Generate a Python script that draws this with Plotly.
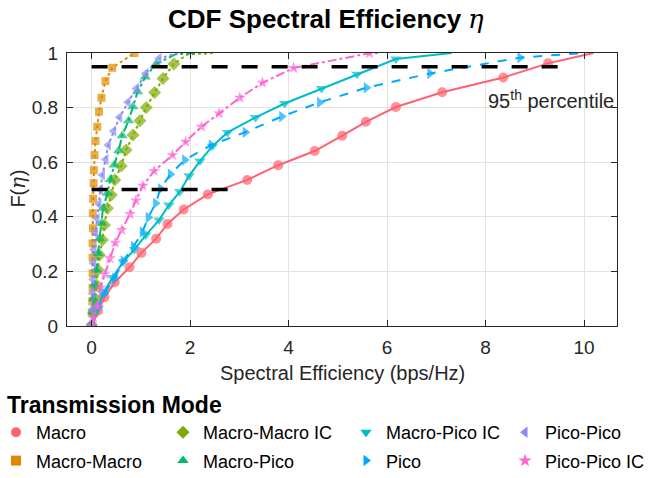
import plotly.graph_objects as go

# ---------------- data ----------------
names = ["Macro", "Macro-Macro", "Macro-Macro IC", "Macro-Pico",
         "Macro-Pico IC", "Pico", "Pico-Pico", "Pico-Pico IC"]

macro_x = [0, 0.13, 0.26, 0.47, 0.77, 1.01, 1.31, 1.54, 1.87, 2.36, 3.16, 3.79,
           4.53, 5.09, 5.57, 6.18, 7.12, 8.36, 9.27, 10.19]
macro_y = [0, 0.056, 0.105, 0.16, 0.215, 0.268, 0.32, 0.374, 0.427, 0.482, 0.535,
           0.589, 0.641, 0.697, 0.748, 0.802, 0.856, 0.91, 0.962, 1.0]

mm_x = [0, 0.01, 0.015, 0.02, 0.02, 0.02, 0.02, 0.025, 0.025, 0.03, 0.04, 0.045,
        0.06, 0.08, 0.115, 0.15, 0.2, 0.28, 0.42, 0.87]
mm_y = [0, 0.047, 0.09, 0.14, 0.193, 0.25, 0.303, 0.358, 0.413, 0.466, 0.523, 0.571,
        0.626, 0.678, 0.73, 0.785, 0.836, 0.897, 0.946, 1.0]

mmic_x = [0, 0.04, 0.07, 0.1, 0.13, 0.16, 0.22, 0.26, 0.32, 0.4, 0.47, 0.6, 0.7,
          0.84, 0.98, 1.11, 1.28, 1.45, 1.67, 1.95, 2.5]
mmic_y = [0, 0.05, 0.1, 0.15, 0.205, 0.26, 0.315, 0.37, 0.431, 0.48, 0.535, 0.586,
          0.645, 0.70, 0.752, 0.80, 0.855, 0.907, 0.96, 0.995, 1.0]

mp_x = [0, 0.02, 0.04, 0.06, 0.1, 0.13, 0.16, 0.2, 0.23, 0.32, 0.38, 0.46, 0.55,
        0.62, 0.75, 0.84, 0.935, 1.09, 1.31, 1.7, 2.1]
mp_y = [0, 0.05, 0.1, 0.15, 0.205, 0.266, 0.321, 0.376, 0.431, 0.486, 0.537, 0.59,
        0.642, 0.697, 0.752, 0.803, 0.858, 0.912, 0.96, 0.995, 1.0]

mpic_x = [0, 0.13, 0.23, 0.43, 0.64, 0.87, 1.1, 1.37, 1.57, 1.79, 1.98, 2.2, 2.45,
          2.76, 3.33, 3.92, 4.67, 5.39, 6.18, 7.31]
mpic_y = [0, 0.065, 0.12, 0.178, 0.235, 0.28, 0.333, 0.388, 0.443, 0.492, 0.55,
          0.604, 0.658, 0.709, 0.764, 0.815, 0.87, 0.922, 0.978, 1.0]

pico_x = [0, 0.13, 0.26, 0.47, 0.64, 0.85, 1.03, 1.15, 1.3, 1.4, 1.6, 1.89, 2.43,
          3.12, 3.86, 4.63, 5.58, 6.87, 8.7, 9.99]
pico_y = [0, 0.07, 0.12, 0.175, 0.238, 0.291, 0.344, 0.397, 0.45, 0.503, 0.556,
          0.608, 0.663, 0.71, 0.767, 0.819, 0.873, 0.925, 0.983, 1.0]

pp_x = [0, 0.01, 0.02, 0.03, 0.04, 0.05, 0.08, 0.11, 0.15, 0.18, 0.22, 0.29, 0.34,
        0.45, 0.57, 0.74, 0.91, 1.1, 1.37, 1.75]
pp_y = [0, 0.06, 0.12, 0.17, 0.23, 0.28, 0.342, 0.394, 0.447, 0.5, 0.553, 0.61,
        0.663, 0.714, 0.765, 0.82, 0.87, 0.925, 0.98, 1.0]

ppic_x = [0, 0.04, 0.12, 0.18, 0.27, 0.37, 0.48, 0.61, 0.78, 0.9, 1.04, 1.27, 1.64,
          1.91, 2.23, 2.59, 3.01, 3.47, 4.1, 5.64, 5.82]
ppic_y = [0, 0.03, 0.07, 0.14, 0.19, 0.248, 0.305, 0.352, 0.41, 0.46, 0.514, 0.568,
          0.626, 0.675, 0.73, 0.779, 0.836, 0.891, 0.945, 0.999, 1.0]

pct95_x = [0, 9.7]
pct95_y = [0.95, 0.95]
pct50_x = [0, 2.8]
pct50_y = [0.5, 0.5]

x_ticks = [0, 2, 4, 6, 8, 10]
y_ticks = [0, 0.2, 0.4, 0.6, 0.8, 1]
y_ticklabels = ["0", "0.2", "0.4", "0.6", "0.8", "1"]

# ---------------- styles ----------------
xs = [macro_x, mm_x, mmic_x, mp_x, mpic_x, pico_x, pp_x, ppic_x]
ys = [macro_y, mm_y, mmic_y, mp_y, mpic_y, pico_y, pp_y, ppic_y]
colors = ["#FF616F", "#E08A00", "#7FAB00", "#00B86E", "#00BCC8", "#00A9FF",
          "#8A8CF8", "#FF63D4"]
symbols = ["circle", "square", "diamond", "triangle-up", "triangle-down",
           "triangle-right", "triangle-left", "star"]
dashes = ["solid", "dot", "dot", "dashdot", "solid", "dash", "dot", "dashdot"]
msizes = [10, 8, 10, 10, 10, 10, 10, 9]
no_marker_tail = [1, 0, 2, 2, 1, 1, 1, 1]

FONT = "Liberation Sans, Arial, sans-serif"
SERIF = "DejaVu Serif"
TXT = "#262626"

# page layout (pixels; page body margin is removed below)
W, H = 652, 478
ML, MR, MT, MB = 67, 35, 53, 152
PW, PH = W - ML - MR, H - MT - MB


def px2paper_x(px):
    return (px - ML) / PW


def px2paper_y(py):
    return (H - MB - py) / PH


fig = go.Figure()
for i, n in enumerate(names):
    npts = len(xs[i])
    sizes = [msizes[i]] * (npts - no_marker_tail[i]) + [0] * no_marker_tail[i]
    fig.add_trace(go.Scatter(
        x=xs[i], y=ys[i], mode="lines+markers", name=n, showlegend=False,
        line=dict(color=colors[i], width=2, dash=dashes[i]),
        marker=dict(symbol=symbols[i], size=sizes, color=colors[i],
                    line=dict(width=0)),
    ))

for rx, ry in [(pct95_x, pct95_y), (pct50_x, pct50_y)]:
    fig.add_trace(go.Scatter(x=rx, y=ry, mode="lines", showlegend=False,
                             line=dict(color="black", width=3.5, dash="16px,14px"),
                             hoverinfo="skip"))

# legend: four columns of two entries (column-major, as in the reference)
columns = [[0, 1], [2, 3], [4, 5], [6, 7]]
col_px = [-4, 163, 346, 505]
legend_keys = ["legend", "legend2", "legend3", "legend4"]
for c, col in enumerate(columns):
    for i in col:
        fig.add_trace(go.Scatter(
            x=[None], y=[None], mode="markers", name=names[i], legend=legend_keys[c],
            legendgroup=names[i],
            marker=dict(symbol=symbols[i], size=10, color=colors[i], line=dict(width=0)),
        ))

legend_layout = {}
for c, key in enumerate(legend_keys):
    legend_layout[key] = dict(
        orientation="v", xref="paper", yref="container",
        x=px2paper_x(col_px[c]), y=1 - 414 / H, xanchor="left", yanchor="top",
        traceorder="grouped", tracegroupgap=2, bgcolor="rgba(0,0,0,0)",
        font=dict(family=FONT, size=18, color="black"))

fig.add_annotation(x=8.0, y=0.828, xref="x", yref="y", xanchor="left", yanchor="middle",
                   text="95<sup>th</sup> percentile", showarrow=False,
                   font=dict(family=FONT, size=20, color=TXT))

# title symbol (serif italic eta, as in the reference)
fig.add_annotation(x=px2paper_x(476), y=px2paper_y(19), xref="paper", yref="paper",
                   xanchor="center", yanchor="middle", showarrow=False, text="η",
                   font=dict(family=SERIF, size=26, style="italic", color="black"))

# axis titles and legend title
fig.add_annotation(x=0.5, y=px2paper_y(373), xref="paper", yref="paper",
                   xanchor="center", yanchor="middle", showarrow=False,
                   text="Spectral Efficiency (bps/Hz)",
                   font=dict(family=FONT, size=20, color=TXT))
for txt, py, fam, sty in [("F(", 198.6, FONT, "normal"), ("η", 182.9, SERIF, "italic"),
                          (")", 173.2, FONT, "normal")]:
    fig.add_annotation(x=px2paper_x(18), y=px2paper_y(py), xref="paper", yref="paper",
                       xanchor="center", yanchor="middle", showarrow=False,
                       textangle=-90, text=txt,
                       font=dict(family=fam, size=20, style=sty, color=TXT))
fig.add_annotation(x=px2paper_x(5), y=px2paper_y(405), xref="paper", yref="paper",
                   xanchor="left", yanchor="middle", showarrow=False,
                   text="<b>Transmission Mode</b>",
                   font=dict(family=FONT, size=23, color="black"))

axis_common = dict(showline=True, linecolor=TXT, linewidth=1, mirror="ticks",
                   ticks="inside", ticklen=6, tickcolor=TXT,
                   showgrid=True, gridcolor="#E3E3E3", gridwidth=1, zeroline=False,
                   tickfont=dict(family=FONT, size=19, color=TXT))

fig.update_layout(
    width=W, height=H,
    margin=dict(l=ML, r=MR, t=MT, b=MB, autoexpand=False),
    paper_bgcolor="white", plot_bgcolor="white",
    title=dict(text="<b>CDF Spectral Efficiency</b>",
               x=168 / W, xanchor="left", y=1 - 19 / H, yanchor="middle",
               font=dict(family=FONT, size=26, color="black")),
    xaxis=dict(range=[-0.5, 10.67], tickvals=x_ticks, ticklabelstandoff=4,
               **axis_common),
    yaxis=dict(range=[0, 1], tickvals=y_ticks, ticktext=y_ticklabels,
               ticklabelstandoff=4, **axis_common),
    **legend_layout,
)

fig.write_html("out.html", config={"displayModeBar": False},
               post_script="document.body.style.margin='0';")
